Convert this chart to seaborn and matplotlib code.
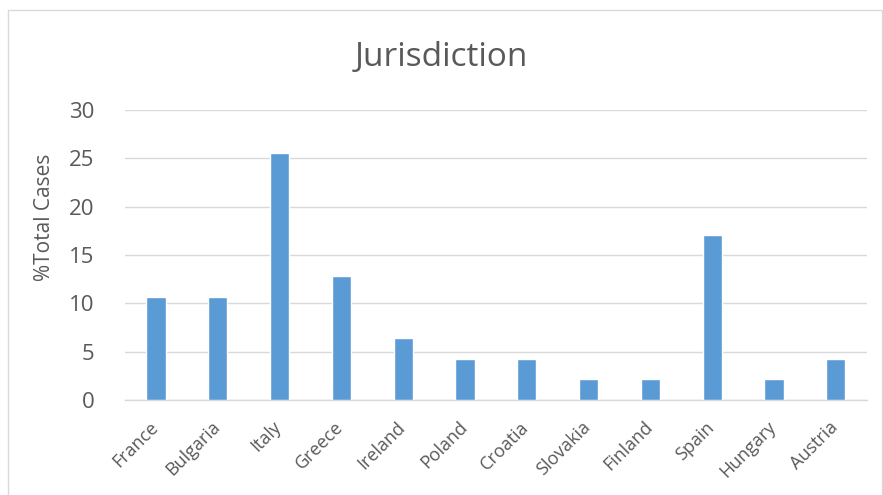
import seaborn as sns
import pandas as pd
import matplotlib.pyplot as plt
import matplotlib.transforms as mtrans
from matplotlib.patches import Rectangle

countries = ['France', 'Bulgaria', 'Italy', 'Greece', 'Ireland', 'Poland',
             'Croatia', 'Slovakia', 'Finland', 'Spain', 'Hungary', 'Austria']
pct_cases = [10.64, 10.64, 25.53, 12.77, 6.38, 4.26,
             4.26, 2.13, 2.13, 17.02, 2.13, 4.26]
yticks = [0, 5, 10, 15, 20, 25, 30]

sns.set_style('white')
plt.rcParams['font.family'] = ['Open Sans', 'DejaVu Sans']
txt = '#595959'

df = pd.DataFrame({'Country': countries, 'Pct': pct_cases})

fig = plt.figure(figsize=(8.83, 4.95), dpi=100)
ax = fig.add_axes([0.1416, 0.192, 0.840, 0.586])

sns.barplot(data=df, x='Country', y='Pct', color='#5B9BD5', width=0.31,
            saturation=1, ax=ax, zorder=3)

ax.set_ylim(0, 30)
ax.set_yticks(yticks)
ax.set_xlim(-0.5, len(countries) - 0.5)
ax.yaxis.grid(True, color='#D9D9D9', linewidth=1, zorder=0)
for s in ['top', 'right', 'left']:
    ax.spines[s].set_visible(False)
ax.spines['bottom'].set_color('#D9D9D9')
ax.spines['bottom'].set_linewidth(1)

ax.tick_params(axis='y', length=0, labelsize=16, labelcolor=txt, pad=22)
ax.tick_params(axis='x', length=0, labelsize=13, labelcolor=txt, pad=4)
plt.setp(ax.get_xticklabels(), rotation=45, ha='right', rotation_mode='anchor')

# nudge rotated labels a bit left and down, like the original
offset = mtrans.ScaledTranslation(-5 / 72, -9 / 72, fig.dpi_scale_trans)
for lab in ax.get_xticklabels():
    lab.set_transform(lab.get_transform() + offset)

ax.set_xlabel('')
ax.set_ylabel('%Total Cases', fontsize=15, color=txt)
ax.yaxis.set_label_coords(-0.095, 0.628)
fig.text(0.5, 0.884, 'Jurisdiction', ha='center', va='center', fontsize=24, color=txt)

fig.patches.append(Rectangle((8 / 883, -0.05), 874 / 883, 1 - 10 / 495 + 0.05,
                             transform=fig.transFigure, fill=False,
                             edgecolor='#D9D9D9', linewidth=1))

fig.savefig('out.png', dpi=100)
